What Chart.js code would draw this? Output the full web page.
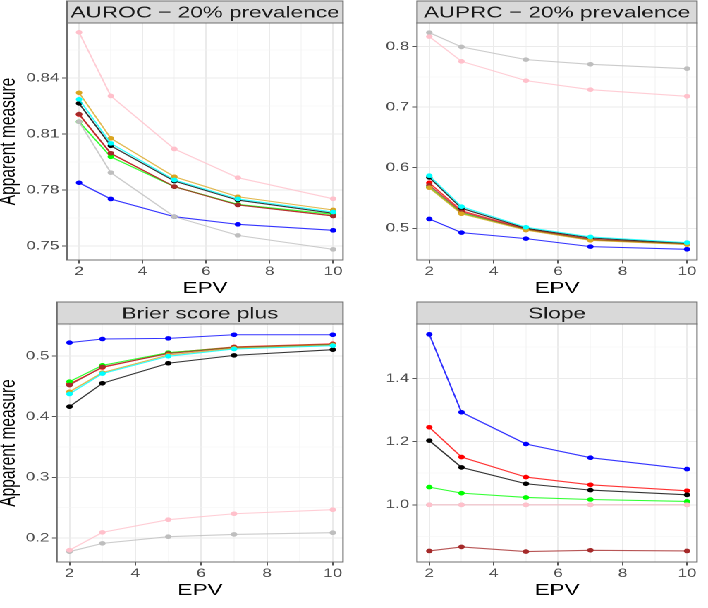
<!DOCTYPE html>
<html>
<head>
<meta charset="utf-8">
<script src="https://cdn.jsdelivr.net/npm/chart.js@4.4.1/dist/chart.umd.min.js"></script>
<style>
  html, body { margin: 0; padding: 0; background: #fff; overflow: hidden; }
  /* the figure was drawn 502px wide and stretched to 708px */
  #stage { position: absolute; left: 0; top: 0; width: 502px; height: 608px; transform: scaleX(1.4104); transform-origin: 0 0; }
  canvas { position: absolute; }
</style>
</head>
<body>
<div id="stage">
  <canvas id="c1" style="left:0;top:0"></canvas>
  <canvas id="c2" style="left:251px;top:0"></canvas>
  <canvas id="c3" style="left:0;top:295px"></canvas>
  <canvas id="c4" style="left:251px;top:295px"></canvas>
</div>
<script>
// Data
const epv = [2, 3, 5, 7, 10];
const xTicks = [2, 4, 6, 8, 10];

// series, top-most first
const seriesNames = ['cyan', 'gold', 'brown', 'pink', 'gray', 'green', 'black', 'red', 'blue'];
const seriesColors = {
  cyan: '0, 255, 255', gold: '218, 165, 32', brown: '165, 42, 42', pink: '255, 192, 203',
  gray: '190, 190, 190', green: '0, 255, 0', black: '0, 0, 0', red: '255, 0, 0', blue: '0, 0, 255'
};

const aurocTicks = [0.75, 0.78, 0.81, 0.84];
const auroc = {
  blue:  [0.7839, 0.7752, 0.7657, 0.7616, 0.7584],
  red:   [0.8205, 0.7995, 0.7818, 0.7721, 0.7662],
  black: [0.8264, 0.8037, 0.7848, 0.7746, 0.7675],
  green: [0.8166, 0.7978, 0.7818, 0.7723, 0.7670],
  gray:  [0.8166, 0.7893, 0.7657, 0.7557, 0.7482],
  pink:  [0.8645, 0.8304, 0.8020, 0.7866, 0.7753],
  brown: [0.8207, 0.7997, 0.7818, 0.7720, 0.7661],
  gold:  [0.8321, 0.8077, 0.7871, 0.7764, 0.7693],
  cyan:  [0.8286, 0.8050, 0.7854, 0.7752, 0.7682]
};

const auprcTicks = [0.5, 0.6, 0.7, 0.8];
const auprc = {
  blue:  [0.5154, 0.4928, 0.4829, 0.4697, 0.4653],
  red:   [0.5750, 0.5290, 0.4990, 0.4820, 0.4740],
  black: [0.5840, 0.5330, 0.5000, 0.4840, 0.4750],
  green: [0.5680, 0.5250, 0.4980, 0.4810, 0.4740],
  gray:  [0.8231, 0.7995, 0.7785, 0.7708, 0.7636],
  pink:  [0.8165, 0.7757, 0.7438, 0.7289, 0.7180],
  brown: [0.5710, 0.5270, 0.4980, 0.4810, 0.4740],
  gold:  [0.5670, 0.5240, 0.4970, 0.4800, 0.4730],
  cyan:  [0.5868, 0.5357, 0.5017, 0.4857, 0.4763]
};

const brierTicks = [0.2, 0.3, 0.4, 0.5];
const brier = {
  blue:  [0.5220, 0.5280, 0.5290, 0.5350, 0.5350],
  red:   [0.4540, 0.4810, 0.5050, 0.5150, 0.5200],
  black: [0.4165, 0.4550, 0.4880, 0.5010, 0.5104],
  green: [0.4577, 0.4846, 0.5055, 0.5140, 0.5190],
  gray:  [0.1775, 0.1912, 0.2022, 0.2060, 0.2088],
  pink:  [0.1800, 0.2093, 0.2302, 0.2400, 0.2467],
  brown: [0.4520, 0.4820, 0.5040, 0.5140, 0.5190],
  gold:  [0.4410, 0.4725, 0.5016, 0.5126, 0.5180],
  cyan:  [0.4374, 0.4710, 0.4995, 0.5115, 0.5170]
};

const slopeTicks = [1.0, 1.2, 1.4];
const slope = {
  blue:  [1.5397, 1.2931, 1.1926, 1.1492, 1.1132],
  red:   [1.2455, 1.1513, 1.0878, 1.0635, 1.0444],
  black: [1.2032, 1.1185, 1.0667, 1.0466, 1.0317],
  green: [1.0561, 1.0370, 1.0233, 1.0169, 1.0106],
  gray:  [1.0, 1.0, 1.0, 1.0, 1.0],
  pink:  [1.0, 1.0, 1.0, 1.0, 1.0],
  brown: [0.8540, 0.8667, 0.8519, 0.8561, 0.8540]
};

const FONT = '"Liberation Sans", Arial, sans-serif';

// Strip title + panel border (ggplot facet look)
const framePlugin = {
  id: 'frame',
  afterDraw(chart, args, opts) {
    const { ctx, chartArea: a } = chart;
    const h = 22;
    ctx.save();
    ctx.fillStyle = '#d9d9d9';
    ctx.fillRect(a.left, a.top - h, a.right - a.left, h);
    ctx.strokeStyle = '#6e6e6e';
    ctx.lineWidth = 1;
    ctx.strokeRect(a.left, a.top - h, a.right - a.left, h);
    ctx.strokeRect(a.left, a.top, a.right - a.left, a.bottom - a.top);
    ctx.fillStyle = '#1a1a1a';
    ctx.font = '16px ' + FONT;
    ctx.textAlign = 'center';
    ctx.textBaseline = 'middle';
    ctx.fillText(opts.title, (a.left + a.right) / 2, a.top - h / 2 + 1);
    ctx.restore();
  }
};

function withMinors(majors, min, max) {
  const step = majors[1] - majors[0];
  const all = [];
  for (let v = majors[0] - step / 2; v <= majors[majors.length - 1] + step / 2 + 1e-9; v += step / 2) {
    if (v >= min && v <= max) all.push(+v.toFixed(6));
  }
  return all;
}

function makePanel(canvasId, p) {
  const canvas = document.getElementById(canvasId);
  canvas.width = 251;
  canvas.height = p.height;
  canvas.style.width = '251px';
  canvas.style.height = p.height + 'px';

  const isMajor = (list, v) => list.some(m => Math.abs(m - v) < 1e-6);
  const yAll = withMinors(p.ticks, p.yMin, p.yMax);
  const xAll = withMinors(xTicks, 1.62, 10.31);

  const datasets = seriesNames
    .filter(name => p.data[name])
    .map(name => ({
      label: name,
      data: epv.map((x, i) => ({ x: x, y: p.data[name][i] })),
      borderColor: `rgba(${seriesColors[name]}, 0.8)`,
      backgroundColor: `rgb(${seriesColors[name]})`,
      pointBorderColor: `rgb(${seriesColors[name]})`,
      borderWidth: 1.1,
      pointRadius: 2.3,
      pointBorderWidth: 0,
      tension: 0
    }));

  const grid = (list) => ({
    color: c => isMajor(list, c.tick.value) ? '#ebebeb' : '#f4f4f4',
    lineWidth: c => isMajor(list, c.tick.value) ? 1 : 0.6,
    tickColor: c => isMajor(list, c.tick.value) ? '#555' : 'rgba(0,0,0,0)',
    tickLength: 3.5,
    tickWidth: 1
  });

  return new Chart(canvas, {
    type: 'line',
    data: { datasets },
    plugins: [framePlugin],
    options: {
      responsive: false,
      devicePixelRatio: 2,
      animation: false,
      layout: { padding: { top: p.top, right: 7.8, left: 0, bottom: p.height - p.bottom - 35 } },
      plugins: {
        legend: { display: false },
        tooltip: { enabled: false },
        frame: { title: p.title }
      },
      scales: {
        x: {
          type: 'linear',
          min: 1.62,
          max: 10.31,
          afterBuildTicks: ax => { ax.ticks = xAll.map(v => ({ value: v })); },
          afterFit: ax => { ax.height = 35; },
          ticks: {
            autoSkip: false,
            maxRotation: 0,
            padding: 1,
            color: '#4d4d4d',
            font: { family: FONT, size: 12 },
            callback: v => isMajor(xTicks, v) ? String(v) : ''
          },
          grid: grid(xTicks),
          border: { display: false },
          title: {
            display: true,
            text: 'EPV',
            color: '#000',
            font: { family: FONT, size: 16, lineHeight: 1.2 },
            padding: { top: 0, bottom: -3.2 }
          }
        },
        y: {
          type: 'linear',
          min: p.yMin,
          max: p.yMax,
          afterBuildTicks: ax => { ax.ticks = yAll.map(v => ({ value: v })); },
          afterFit: ax => { ax.width = p.left; },
          ticks: {
            autoSkip: false,
            padding: 2,
            color: '#4d4d4d',
            font: { family: FONT, size: 12 },
            callback: v => isMajor(p.ticks, v) ? v.toFixed(p.dec) : ''
          },
          grid: grid(p.ticks),
          border: { display: false },
          title: {
            display: p.yTitle,
            text: 'Apparent measure',
            color: '#000',
            font: { family: FONT, size: 15.5, lineHeight: 1 },
            padding: { top: -1.5, bottom: 0 }
          }
        }
      }
    }
  });
}

makePanel('c1', { title: 'AUROC \u2212 20% prevalence', data: auroc, ticks: aurocTicks, dec: 2,
  yMin: 0.7425, yMax: 0.8695, height: 295, top: 23, bottom: 260, left: 47.5, yTitle: true });
makePanel('c2', { title: 'AUPRC \u2212 20% prevalence', data: auprc, ticks: auprcTicks, dec: 1,
  yMin: 0.4476, yMax: 0.839, height: 295, top: 23, bottom: 260, left: 44.7, yTitle: false });
makePanel('c3', { title: 'Brier score plus', data: brier, ticks: brierTicks, dec: 1,
  yMin: 0.1605, yMax: 0.5527, height: 313, top: 29, bottom: 267, left: 40.4, yTitle: true });
makePanel('c4', { title: 'Slope', data: slope, ticks: slopeTicks, dec: 1,
  yMin: 0.819, yMax: 1.5725, height: 313, top: 29, bottom: 267, left: 44.7, yTitle: false });
</script>
</body>
</html>
